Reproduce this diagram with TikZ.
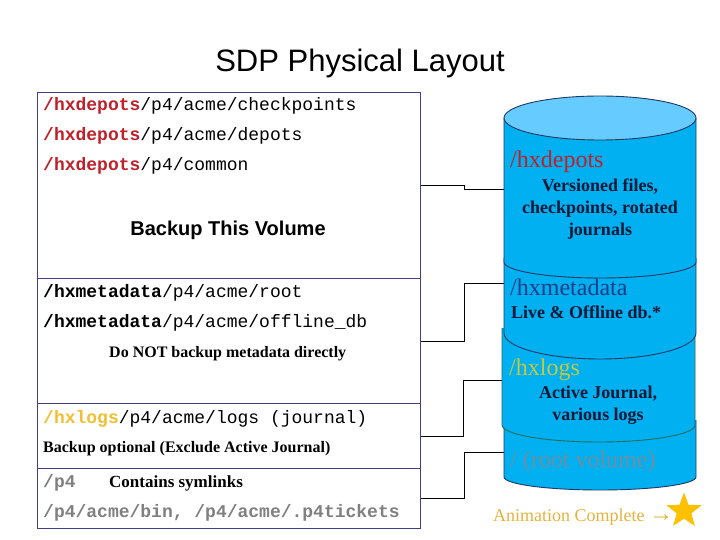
\documentclass[tikz,border=0pt]{standalone}
\usepackage{fontspec}
\setmainfont{Liberation Serif}
\setsansfont{Liberation Sans}
\setmonofont{Liberation Mono}
\usepackage{xcolor}
\usetikzlibrary{shapes,arrows,positioning,fit,backgrounds}

\definecolor{boxline}{HTML}{3F3F8A}
\definecolor{depred}{HTML}{C0202A}
\definecolor{metanavy}{HTML}{1F3C88}
\definecolor{logsgold}{HTML}{F0C030}
\definecolor{logsolive}{HTML}{C8C83C}
\definecolor{rootgray}{HTML}{6F8FA0}
\definecolor{cylblue}{HTML}{00B0F0}
\definecolor{cyltop}{HTML}{66CCFF}
\definecolor{cylline}{HTML}{1F3864}
\definecolor{logsline}{HTML}{1F6F60}
\definecolor{descblue}{HTML}{0A1838}
\definecolor{animgold}{HTML}{E6B33A}
\definecolor{stargold}{HTML}{FFC000}

\begin{document}
\begin{tikzpicture}[
    x=1pt, y=-1pt,
    volbox/.style={rectangle, draw=boxline, line width=1pt, minimum width=383pt, anchor=north west, inner sep=0pt},
    dirline/.style={anchor=base west, inner sep=0pt, font=\fontsize{18}{20}\selectfont\ttfamily},
    remark/.style={anchor=base west, inner sep=0pt, font=\fontsize{16}{19}\selectfont\rmfamily\bfseries},
    volname/.style={anchor=base west, inner sep=0pt, font=\fontsize{24}{28}\selectfont\rmfamily},
    desc/.style={inner sep=0pt, align=center, text=descblue, font=\fontsize{18}{21.6}\selectfont\rmfamily\bfseries},
    wire/.style={draw, line width=0.9pt},
    seg/.style={fill=cylblue},
    segline/.style={draw=cylline, line width=0.9pt}
]
    \useasboundingbox[fill=white] (0,0) rectangle (720,540);

    % Title
    \node[anchor=base, font=\fontsize{31}{36}\selectfont\sffamily] (title) at (360,72) {SDP Physical Layout};

    % Volume sections
    \node[volbox, minimum height=186pt] (depsec) at (37,92) {};
    \node[volbox, minimum height=125pt] (metasec) at (37,278) {};
    \node[volbox, minimum height=65pt] (logsec) at (37,403) {};
    \node[volbox, minimum height=60pt] (rootsec) at (37,468) {};

    % Directories
    \node[dirline] (chk) at (43,111) {{\bfseries\color{depred}/hxdepots}/p4/acme/checkpoints};
    \node[dirline] (dep) at (43,141) {{\bfseries\color{depred}/hxdepots}/p4/acme/depots};
    \node[dirline] (com) at (43,171) {{\bfseries\color{depred}/hxdepots}/p4/common};
    \node[anchor=base, font=\fontsize{20}{24}\selectfont\sffamily\bfseries] (backup) at (228,236) {Backup This Volume};
    \node[dirline] (mroot) at (43,297) {{\bfseries /hxmetadata}/p4/acme/root};
    \node[dirline] (moff) at (43,327) {{\bfseries /hxmetadata}/p4/acme/offline\_db};
    \node[remark] (nometa) at (109,357) {Do NOT backup metadata directly};
    \node[dirline] (jnl) at (43,423) {{\bfseries\color{logsgold}/hxlogs}/p4/acme/logs (journal)};
    \node[remark] (optional) at (43,452) {Backup optional (Exclude Active Journal)};
    \node[dirline, text=gray, font=\fontsize{18}{20}\selectfont\ttfamily\bfseries] (p4) at (43,487) {/p4};
    \node[remark, font=\fontsize{17}{19}\selectfont\rmfamily\bfseries] (symlinks) at (109,487) {Contains symlinks};
    \node[dirline, text=gray, font=\fontsize{18}{20}\selectfont\ttfamily\bfseries] (bin) at (43,517) {/p4/acme/bin, /p4/acme/.p4tickets};

    % Cylinder, bottom segment first
    \fill[seg] (504,420) -- (504,477) arc[start angle=180, end angle=0, x radius=96, y radius=13] -- (696,420) -- cycle;
    \draw[segline] (504,420) -- (504,477) arc[start angle=180, end angle=0, x radius=96, y radius=13] -- (696,420);
    \fill[seg] (502,328) -- (502,425) arc[start angle=180, end angle=0, x radius=96.5, y radius=17] -- (695,328) -- cycle;
    \draw[segline, draw=logsline] (502,328) -- (502,425) arc[start angle=180, end angle=0, x radius=96.5, y radius=17] -- (695,328);
    \fill[seg] (504,258) -- (504,333) arc[start angle=180, end angle=0, x radius=96, y radius=26] -- (696,258) -- cycle;
    \draw[segline] (504,258) -- (504,333) arc[start angle=180, end angle=0, x radius=96, y radius=26] -- (696,258);
    \fill[seg] (504,118) -- (504,262) arc[start angle=180, end angle=0, x radius=96, y radius=16] -- (696,118) -- cycle;
    \draw[segline] (504,118) -- (504,262) arc[start angle=180, end angle=0, x radius=96, y radius=16] -- (696,118);
    \filldraw[fill=cyltop, draw=cylline, line width=0.9pt] (600,118) ellipse[x radius=96, y radius=22];

    % Cylinder labels
    \node[volname, text=depred] (hxdepots) at (510,168) {/hxdepots};
    \node[desc] (depdesc) at (600,209) {Versioned files,\\checkpoints, rotated\\journals};
    \node[volname, text=metanavy] (hxmeta) at (510,295) {/hxmetadata};
    \node[remark, text=descblue, font=\fontsize{18}{20}\selectfont\rmfamily\bfseries] (metadesc) at (511,318) {Live \& Offline db.*};
    \node[volname, text=logsolive] (hxlogs) at (509,375) {/hxlogs};
    \node[desc] (logsdesc) at (598,405) {Active Journal,\\various logs};
    \node[volname, text=rootgray] (rootvol) at (510,467) {/ (root volume)};

    % Connector ends
    \coordinate (depin) at (504,189);
    \coordinate (metain) at (504,283);
    \coordinate (logsin) at (502,380);
    \coordinate (rootin) at (504,452);

    \draw[wire] (depsec.east) -- ++(43,0) |- (depin);
    \draw[wire] (metasec.east) -- ++(43,0) |- (metain);
    \draw[wire] (logsec.east) -- ++(42,0) |- (logsin);
    \draw[wire] (rootsec.east) -- ++(43,0) |- (rootin);

    % Animation note
    \node[anchor=base west, inner sep=0pt, text=animgold, font=\fontsize{18}{20}\selectfont\rmfamily] (anim) at (493,521) {Animation Complete {\fontsize{24}{24}\selectfont →}};
    \node[star, star points=5, star point ratio=2.4, fill=stargold, minimum size=37pt, inner sep=0pt] (star) at (684,511) {};
\end{tikzpicture}
\end{document}
